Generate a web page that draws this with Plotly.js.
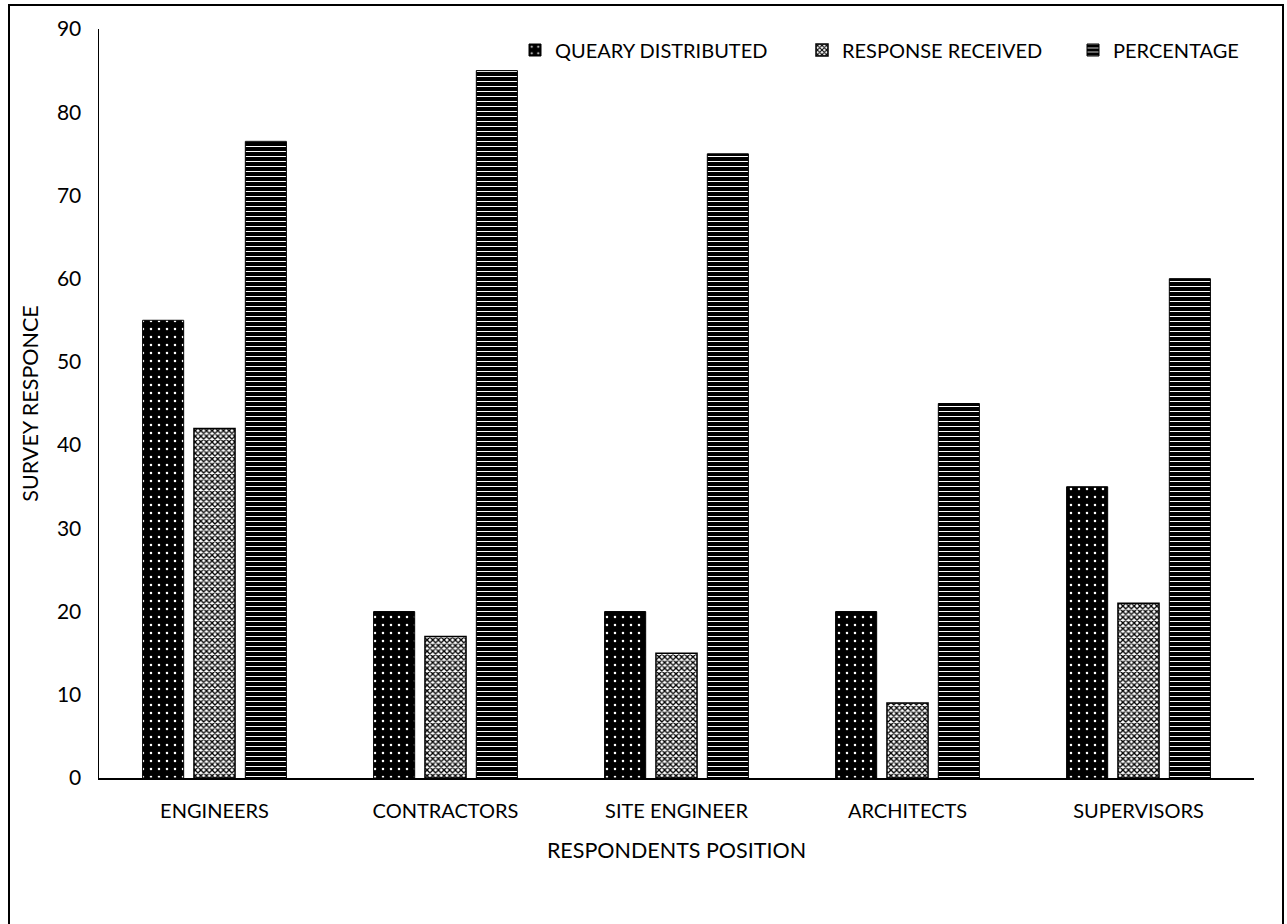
<!DOCTYPE html>
<html>
<head>
<meta charset="utf-8">
<script src="https://cdn.plot.ly/plotly-3.0.1.min.js"></script>
<style>html,body{margin:0;padding:0;background:#fff;}#chart{width:1287px;height:924px;}</style>
</head>
<body>
<div id="chart"></div>
<script>
const categories = ["ENGINEERS", "CONTRACTORS", "SITE ENGINEER", "ARCHITECTS", "SUPERVISORS"];
const queryDistributed = [55, 20, 20, 20, 35];
const responseReceived = [42, 17, 15, 9, 21];
const percentage = [76.5, 85, 75, 45, 60];
const seriesNames = ["QUEARY DISTRIBUTED", "RESPONSE RECEIVED", "PERCENTAGE"];
const yTicks = [0, 10, 20, 30, 40, 50, 60, 70, 80, 90];

const FONT = "Lato, 'Open Sans', sans-serif";

const L = 99, R = 1254, T = 29, B = 778;
const W = 1287, H = 924;
const pw = R - L, ph = B - T;
const px = v => (v - L) / pw;
const py = v => (B - v) / ph;

const traces = [
  {
    type: "bar", name: seriesNames[0], x: categories, y: queryDistributed, legend: "legend",
    marker: {color: "#000", line: {color: "#000", width: 1},
      pattern: {shape: ".", bgcolor: "#000", fgcolor: "#fff", size: 8, solidity: 0.08, fillmode: "replace"}}
  },
  {
    type: "bar", name: seriesNames[1], x: categories, y: responseReceived, legend: "legend2",
    marker: {color: "#fff", line: {color: "#000", width: 1.5},
      pattern: {shape: "x", bgcolor: "#fff", fgcolor: "#000", size: 4, solidity: 0.55, fillmode: "replace"}}
  },
  {
    type: "bar", name: seriesNames[2], x: categories, y: percentage, legend: "legend3",
    marker: {color: "#000", line: {color: "#000", width: 1},
      pattern: {shape: "-", bgcolor: "#000", fgcolor: "#fff", size: 5, solidity: 0.2, fillmode: "replace"}}
  }
];

function legendAt(textX) {
  return {
    orientation: "h", x: px(textX - 40), xanchor: "left", y: py(50), yanchor: "middle",
    font: {family: FONT, size: 20, color: "#000"},
    bgcolor: "rgba(0,0,0,0)", itemwidth: 30
  };
}

const layout = {
  width: W, height: H,
  margin: {l: L, r: W - R, t: T, b: H - B, autoexpand: false},
  paper_bgcolor: "#fff", plot_bgcolor: "#fff",
  font: {family: FONT, size: 20, color: "#000"},
  barmode: "group",
  bargap: 0.333,
  bargroupgap: 0.2,
  showlegend: true,
  legend: legendAt(555),
  legend2: legendAt(842),
  legend3: legendAt(1113),
  xaxis: {
    type: "category", automargin: false,
    showline: true, linecolor: "#000", linewidth: 1.5,
    ticks: "", showgrid: false, zeroline: false,
    tickfont: {family: FONT, size: 20, color: "#000"},
    ticklabelstandoff: 14,
    title: {text: "RESPONDENTS POSITION", font: {family: FONT, size: 21.5, color: "#000"}, standoff: 22}
  },
  yaxis: {
    range: [0, 90], tickvals: yTicks, ticktext: yTicks.map(String), automargin: false,
    showline: true, linecolor: "#000", linewidth: 1.5,
    ticks: "", showgrid: false, zeroline: false,
    tickfont: {family: FONT, size: 21, color: "#000"},
    ticklabelstandoff: 12,
    title: {text: "SURVEY RESPONCE", font: {family: FONT, size: 21.5, color: "#000"}, standoff: 12}
  },
  shapes: [
    {type: "rect", xref: "paper", yref: "paper",
     x0: px(9), x1: px(1283), y0: py(1000), y1: py(5),
     line: {color: "#000", width: 2}, fillcolor: "rgba(0,0,0,0)", layer: "below"}
  ]
};

Plotly.newPlot("chart", traces, layout, {displayModeBar: false, staticPlot: true});
</script>
</body>
</html>
